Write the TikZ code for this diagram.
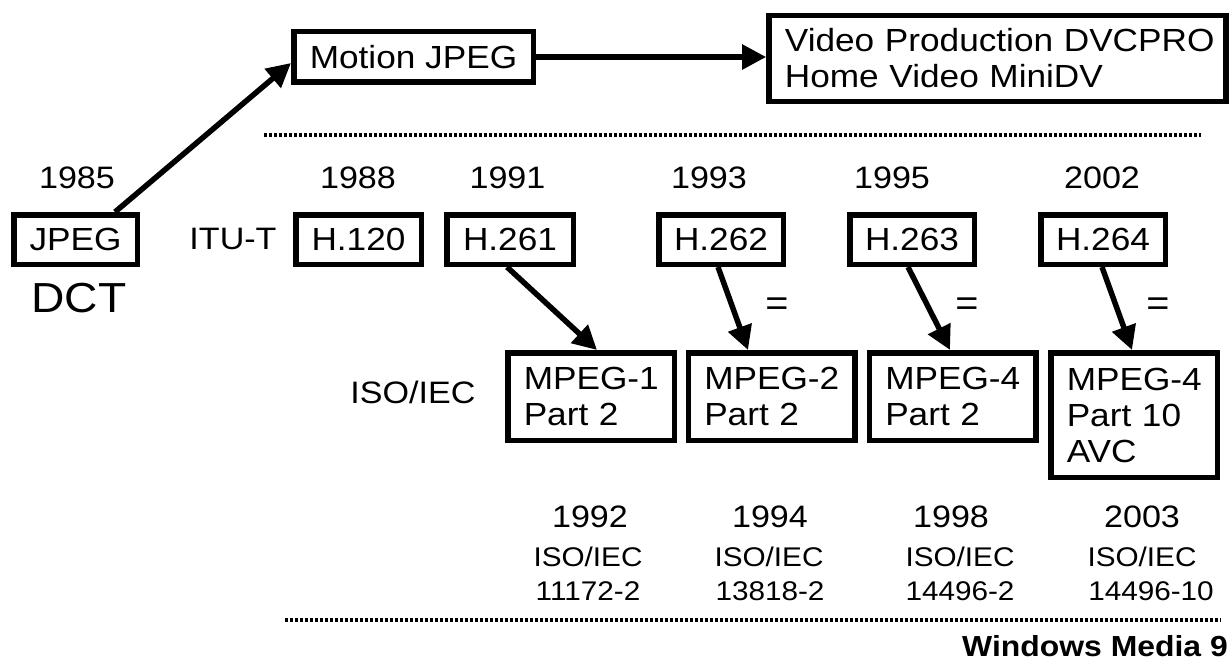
\documentclass[tikz,border=0pt]{standalone}
\usepackage{fontspec}
\setmainfont{Liberation Sans}[FakeStretch=1.1]
\usetikzlibrary{arrows.meta}
\begin{document}
\begin{tikzpicture}[x=1pt,y=-1pt,
  every node/.style={font=\fontsize{32}{36}\selectfont, inner sep=0pt},
  box/.style={draw, line width=5.5pt, align=center},
  hbox/.style={box, minimum width=124.5pt, minimum height=49.5pt},
  mbox/.style={box, text width=134.5pt, inner xsep=16pt, align=left, minimum height=87.5pt},
  yr/.style={anchor=base, font=\fontsize{31}{36}\selectfont},
  iso/.style={anchor=base, font=\fontsize{27}{32}\selectfont},
  arr/.style={line width=5.5pt, -{Triangle[length=24pt,width=24pt]}},
  eqs/.style={font=\fontsize{36}{40}\selectfont},
  dots/.style={line width=4.5pt, dash pattern=on 3pt off 2pt}]
\useasboundingbox (0,0) rectangle (1229,661);

% top row
\node[box, minimum width=123.5pt, minimum height=49.5pt] (jpeg) at (75.5,239.5) {JPEG};
\node[box, minimum width=239.5pt, minimum height=50.5pt] (mjpeg) at (413.5,57) {Motion JPEG};
\node[box, minimum width=457pt, minimum height=85.5pt, text width=425pt, inner xsep=16pt, align=left] (video) at (997.4,58.5) {\mbox{Video Production DVCPRO}\\\mbox{Home Video MiniDV}};

\draw[arr] ([xshift=39.5pt]jpeg.north) -- ([yshift=-6pt]mjpeg.west);
\draw[arr] (mjpeg.east) -- (mjpeg.east -| video.west);

% dotted separators
\coordinate (d1a) at (264,135);
\coordinate (d1b) at (1201,135);
\draw[dots] (d1a) -- (d1b);
\coordinate (d2a) at (285,620);
\coordinate (d2b) at (1221,620);
\draw[dots] (d2a) -- (d2b);

% years top
\node[yr] (y1985) at (77,188) {1985};
\node[yr] (y1988) at (358,188) {1988};
\node[yr] (y1991) at (507.5,188) {1991};
\node[yr] (y1993) at (709,188) {1993};
\node[yr] (y1995) at (892,188) {1995};
\node[yr] (y2002) at (1102,188) {2002};

\node[anchor=base, font=\fontsize{42}{48}\selectfont] (dct) at (79,312) {DCT};
\node[anchor=base, font=\fontsize{31}{36}\selectfont] (itut) at (233,249) {ITU-T};

% ITU-T boxes
\node[hbox, minimum width=125.5pt] (h120) at (358.5,239.5) {H.120};
\node[hbox, minimum width=126.5pt] (h261) at (510,239.5) {H.261};
\node[hbox] (h262) at (721,239.5) {H.262};
\node[hbox] (h263) at (912,239.5) {H.263};
\node[hbox] (h264) at (1103,239.5) {H.264};

% ISO/IEC boxes
\node[anchor=base, font=\fontsize{31}{36}\selectfont] (isolab) at (413,403) {ISO/IEC};
\node[mbox] (m1) at (591,396.5) {\mbox{MPEG-1}\\\mbox{Part 2}};
\node[mbox] (m2) at (771.5,396.5) {\mbox{MPEG-2}\\\mbox{Part 2}};
\node[mbox] (m4) at (952.5,396.5) {\mbox{MPEG-4}\\\mbox{Part 2}};
\node[mbox, minimum height=124.5pt] (m10) at (1134,415) {\mbox{MPEG-4}\\\mbox{Part 10}\\\mbox{AVC}};

\draw[arr] ([xshift=-3pt]h261.south) -- ([xshift=6pt]m1.north);
\draw[arr] ([xshift=-3pt]h262.south) -- ([xshift=-23.5pt]m2.north);
\draw[arr] ([xshift=-4pt]h263.south) -- ([xshift=-2.5pt]m4.north);
\draw[arr] ([xshift=-1pt]h264.south) -- ([xshift=-2pt]m10.north);

\node[eqs] (eq1) at (777,307) {=};
\node[eqs] (eq2) at (967,307) {=};
\node[eqs] (eq3) at (1158,307) {=};

% bottom years and standards
\node[yr] (y1992) at (590,527) {1992};
\node[yr] (y1994) at (770,527) {1994};
\node[yr] (y1998) at (951,527) {1998};
\node[yr] (y2003) at (1142,527) {2003};

\node[iso] (i1) at (588,566) {ISO/IEC};
\node[iso] (i2) at (769,566) {ISO/IEC};
\node[iso] (i3) at (960,566) {ISO/IEC};
\node[iso] (i4) at (1142,566) {ISO/IEC};

\node[iso] (n1) at (588,600) {11172-2};
\node[iso] (n2) at (770,600) {13818-2};
\node[iso] (n3) at (960,600) {14496-2};
\node[iso] (n4) at (1151,600) {14496-10};

\node[anchor=base west, font=\fontsize{29}{34}\selectfont\bfseries] (wm9) at (962,656) {Windows Media 9};
\end{tikzpicture}
\end{document}
